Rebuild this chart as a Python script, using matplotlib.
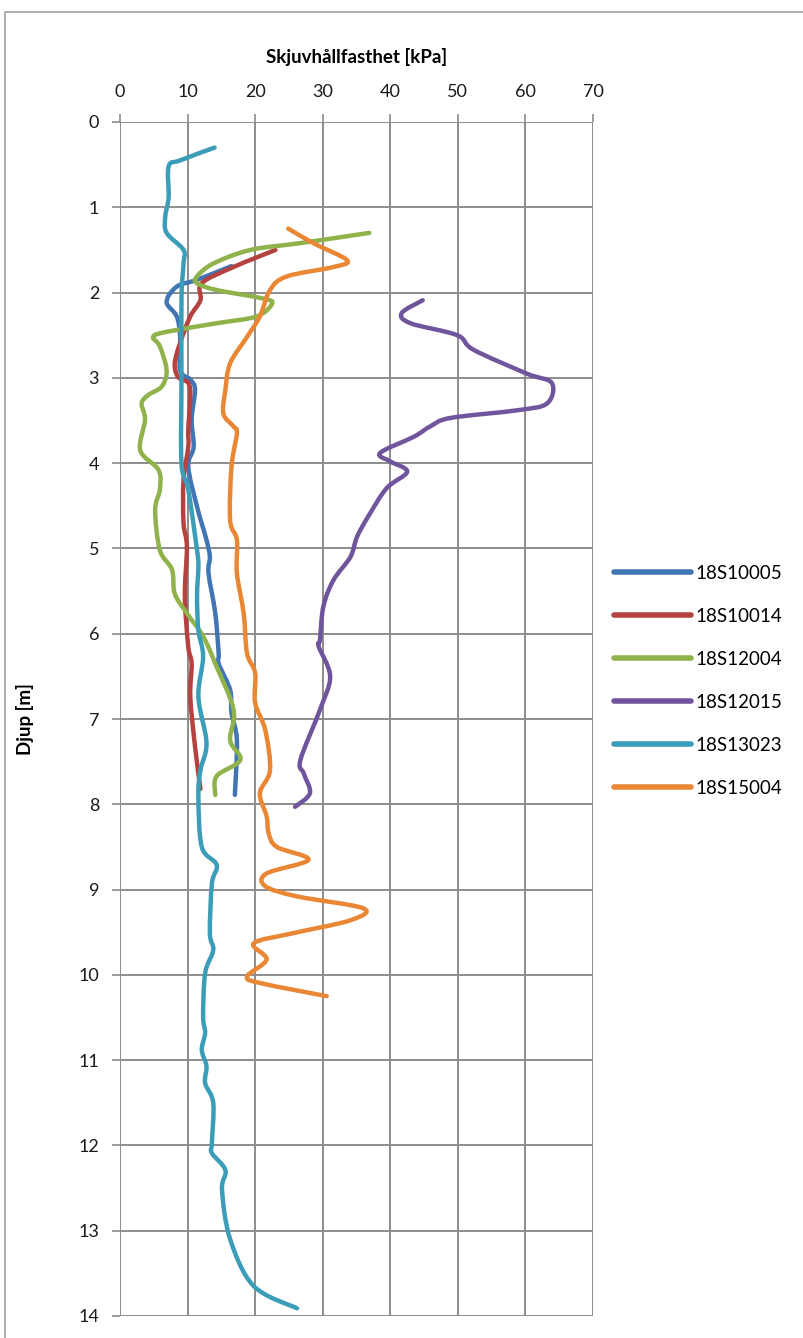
import matplotlib
matplotlib.use("Agg")
import matplotlib.pyplot as plt
from matplotlib.patches import Rectangle, PathPatch
from matplotlib.path import Path
from matplotlib.lines import Line2D

plt.rcParams['font.family'] = ['Lato', 'DejaVu Sans']

# Shear strength profiles: (depth [m], strength [kPa])
d_10005 = [1.69, 1.85, 1.93, 2.11, 2.28, 2.52, 2.91, 3.02, 3.14, 3.49, 3.81, 4.04, 4.51, 4.90, 5.10, 5.29,
           5.76, 6.23, 6.35, 6.66, 6.93, 7.25, 7.89]
s_10005 = [16.5, 11.4, 8.4, 6.9, 8.4, 8.9, 8.9, 10.4, 11.1, 10.6, 10.9, 10.1, 11.4, 12.8, 13.3, 13.1,
           14.1, 14.6, 14.6, 16.3, 16.5, 17.3, 17.0]

d_10014 = [1.50, 1.70, 1.89, 2.09, 2.28, 2.59, 2.83, 2.99, 3.06, 3.22, 3.61, 3.81, 4.20, 4.70, 4.98, 5.56,
           6.15, 6.35, 6.74, 7.32, 7.82]
s_10014 = [23.0, 16.8, 12.1, 11.9, 10.4, 8.9, 8.1, 8.6, 10.1, 10.4, 10.1, 10.1, 9.4, 9.4, 9.9, 9.6,
           10.1, 10.6, 10.4, 11.1, 11.9]

d_12004 = [1.30, 1.42, 1.50, 1.66, 1.81, 1.89, 1.97, 2.07, 2.13, 2.28, 2.36, 2.46, 2.52, 2.63, 2.91, 3.10,
           3.20, 3.30, 3.49, 3.85, 4.08, 4.31, 4.55, 5.02, 5.25, 5.53, 5.76, 6.03, 6.35, 6.89, 7.25, 7.48,
           7.67, 7.89]
s_12004 = [36.9, 26.7, 19.3, 13.8, 11.4, 11.4, 14.3, 21.2, 22.5, 20.2, 14.3, 6.9, 4.9, 5.9, 6.9, 6.2,
           4.2, 3.2, 3.7, 3.0, 5.7, 5.9, 5.2, 5.9, 7.7, 8.1, 9.9, 12.3, 14.1, 16.8, 16.3, 17.8,
           14.3, 14.1]

d_12015 = [2.09, 2.24, 2.36, 2.50, 2.67, 2.95, 3.06, 3.30, 3.38, 3.47, 3.57, 3.69, 3.88, 3.98, 4.10, 4.29,
           4.59, 4.86, 5.10, 5.37, 5.68, 6.07, 6.15, 6.50, 6.89, 7.48, 7.64, 7.87, 8.03]
s_12015 = [44.8, 41.7, 43.0, 49.9, 52.3, 60.2, 63.9, 63.2, 58.8, 48.9, 45.9, 43.5, 38.5, 40.0, 42.5, 39.5,
           37.0, 35.1, 34.1, 31.6, 30.1, 29.6, 29.4, 31.1, 29.6, 26.7, 27.2, 28.1, 25.9]

d_13023 = [0.30, 0.45, 0.52, 0.88, 1.11, 1.30, 1.50, 1.66, 2.05, 3.02, 4.00, 4.31, 5.02, 5.21, 5.56, 5.96,
           6.27, 6.74, 7.28, 7.60, 7.91, 8.50, 8.71, 8.93, 9.51, 9.71, 9.98, 10.49, 10.68, 10.88, 11.07,
           11.27, 11.50, 11.97, 12.09, 12.29, 12.52, 13.10, 13.65, 13.91]
s_13023 = [14.0, 8.9, 7.2, 7.2, 6.7, 6.9, 9.4, 9.4, 9.1, 9.1, 9.1, 10.1, 11.4, 11.6, 11.4, 11.6,
           12.3, 11.6, 12.8, 11.9, 11.6, 12.1, 14.3, 13.6, 13.3, 13.8, 12.6, 12.3, 12.6, 12.1, 12.8,
           12.6, 13.8, 13.6, 13.6, 15.6, 15.1, 16.3, 19.8, 26.2]

d_15004 = [1.25, 1.42, 1.62, 1.70, 1.81, 1.97, 2.28, 2.52, 2.83, 3.14, 3.42, 3.57, 3.65, 4.04, 4.67, 4.90,
           5.29, 5.76, 6.23, 6.46, 6.81, 7.13, 7.60, 7.87, 8.14, 8.34, 8.50, 8.65, 8.81, 8.96, 9.08,
           9.22, 9.36, 9.51, 9.63, 9.82, 10.02, 10.10, 10.25]
s_15004 = [24.9, 28.6, 33.6, 31.6, 24.7, 22.2, 20.7, 18.8, 16.3, 15.6, 15.3, 16.8, 17.3, 16.5, 16.3, 17.3,
           17.3, 18.3, 18.8, 20.0, 20.0, 21.5, 22.2, 20.7, 21.7, 22.0, 23.2, 27.9, 21.7, 21.5, 26.2,
           36.0, 34.1, 25.7, 19.8, 21.7, 18.8, 21.0, 30.6]

series = [
    ("18S10005", d_10005, s_10005, "#4175b4"),
    ("18S10014", d_10014, s_10014, "#b5423f"),
    ("18S12004", d_12004, s_12004, "#8fb24a"),
    ("18S12015", d_12015, s_12015, "#71559c"),
    ("18S13023", d_13023, s_13023, "#3c9db9"),
    ("18S15004", d_15004, s_15004, "#ea8734"),
]

x_ticks = [0, 10, 20, 30, 40, 50, 60, 70]
y_ticks = list(range(0, 15))


def smooth_path(xs, ys):
    """Smoothed line through the points (Catmull-Rom drawn as cubic Bezier segments)."""
    pts = list(zip(xs, ys))
    n = len(pts)
    verts = [pts[0]]
    codes = [Path.MOVETO]
    for i in range(n - 1):
        p0 = pts[i - 1] if i > 0 else pts[i]
        p1 = pts[i]
        p2 = pts[i + 1]
        p3 = pts[i + 2] if i + 2 < n else pts[i + 1]
        c1 = (p1[0] + (p2[0] - p0[0]) / 6, p1[1] + (p2[1] - p0[1]) / 6)
        c2 = (p2[0] - (p3[0] - p1[0]) / 6, p2[1] - (p3[1] - p1[1]) / 6)
        verts += [c1, c2, p2]
        codes += [Path.CURVE4] * 3
    return Path(verts, codes)


W, H = 804, 1338
fig = plt.figure(figsize=(W / 100, H / 100), dpi=100)
fig.patch.set_facecolor("white")

# outer chart frame
fig.add_artist(Rectangle((5 / W, -0.01), 1.05, (H - 12) / H + 0.01, transform=fig.transFigure,
                         fill=False, edgecolor="#a0a0a0", linewidth=1.2))

ax = fig.add_axes([120 / W, (H - 1316) / H, 473 / W, 1194 / H])
ax.set_xlim(0, 70)
ax.set_ylim(14, 0)
ax.xaxis.tick_top()
ax.xaxis.set_label_position("top")
ax.set_xticks(x_ticks)
ax.set_yticks(y_ticks)
ax.grid(True, color="#8c8c8c", linewidth=1.4)
ax.set_axisbelow(True)
for sp in ax.spines.values():
    sp.set_visible(False)
ax.tick_params(axis="both", which="both", length=6, width=1.2, color="#8c8c8c",
               labelsize=13, labelcolor="#1a1a1a")
ax.tick_params(axis="x", pad=10)
ax.tick_params(axis="y", pad=9)

handles = []
for name, d, s, c in series:
    ax.add_patch(PathPatch(smooth_path(s, d), facecolor="none", edgecolor=c, linewidth=3.2,
                           joinstyle="round", capstyle="round", transform=ax.transData))
    handles.append(Line2D([], [], color=c, linewidth=4, solid_capstyle="round", label=name))

ax.set_xlabel("Skjuvhållfasthet [kPa]", fontsize=13.5, fontweight="bold", labelpad=15)
ax.set_ylabel("Djup [m]", fontsize=13.5, fontweight="bold", labelpad=32)

leg = ax.legend(handles=handles, loc="upper left", bbox_to_anchor=(607 / W, (H - 557) / H),
                bbox_transform=fig.transFigure, frameon=False, fontsize=13.5,
                handlelength=4.1, handletextpad=0.2, labelspacing=1.39, borderaxespad=0)

fig.savefig("out.png", dpi=100)
